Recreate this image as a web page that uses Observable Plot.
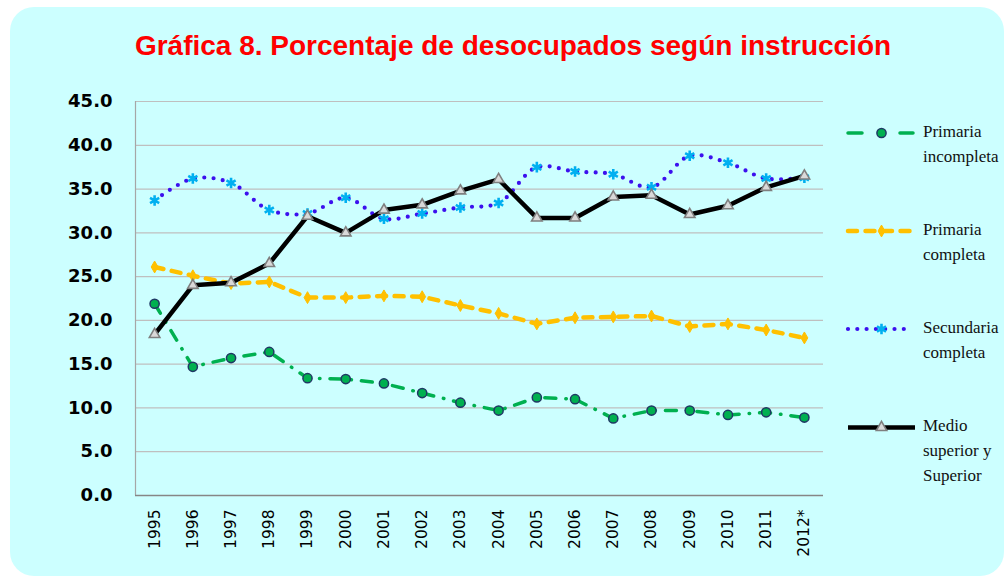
<!DOCTYPE html>
<html>
<head>
<meta charset="utf-8">
<script src="https://cdn.jsdelivr.net/npm/d3@7"></script>
<script src="https://cdn.jsdelivr.net/npm/@observablehq/plot@0.6"></script>
<style>
  html, body { margin: 0; padding: 0; background: #ffffff; }
  #wrap { position: relative; width: 1005px; height: 577px; overflow: hidden; }
  #card { position: absolute; left: 10px; top: 7px; width: 994px; height: 569px; background: #CCFFFF; border-radius: 24px; }
  #title { position: absolute; left: 10px; width: 1006px; top: 29px; text-align: center;
           font-family: "Liberation Sans", Arial, sans-serif; font-weight: bold; font-size: 28px; color: #FF0000; line-height: 34px; white-space: nowrap; }
  #chart, #legend { position: absolute; left: 0; top: 0; }
</style>
</head>
<body>
<div id="wrap">
  <div id="card"></div>
  <div id="title">Gráfica 8. Porcentaje de desocupados según instrucción</div>
  <div id="chart"></div>
  <svg id="legend" width="1005" height="577"></svg>
</div>
<script>
const years = ["1995","1996","1997","1998","1999","2000","2001","2002","2003","2004","2005","2006","2007","2008","2009","2010","2011","2012*"];
const yTicks = [0,5,10,15,20,25,30,35,40,45];

const primariaIncompleta = [21.9,14.7,15.7,16.4,13.4,13.3,12.8,11.7,10.6,9.7,11.2,11.0,8.8,9.7,9.7,9.2,9.5,8.9];
const primariaCompleta   = [26.1,25.1,24.2,24.4,22.6,22.6,22.8,22.7,21.7,20.8,19.6,20.3,20.4,20.5,19.3,19.6,18.9,18.0];
const secundariaCompleta = [33.7,36.2,35.7,32.6,32.2,34.0,31.6,32.2,32.9,33.4,37.5,37.0,36.7,35.2,38.8,38.0,36.2,36.3];
const medioSuperior      = [18.4,24.0,24.3,26.5,31.9,30.0,32.6,33.2,34.8,36.1,31.7,31.7,34.1,34.3,32.1,33.1,35.2,36.5];

const seriesNames = ["Primaria incompleta","Primaria completa","Secundaria completa","Medio superior y Superior"];
const seriesValues = [primariaIncompleta, primariaCompleta, secundariaCompleta, medioSuperior];

const toRows = vals => vals.map((v, i) => ({i, year: years[i], v}));
const rows = seriesValues.map(toRows);

const styles = [
  {line: {stroke: "#00B050", strokeWidth: 3.5, strokeDasharray: "11,10,0.5,10", strokeLinecap: "round"},
   dot: {symbol: "circle", r: 4.6, fill: "#00B050", stroke: "#1F3864", strokeWidth: 1.5}},
  {line: {stroke: "#FFC000", strokeWidth: 4.5, strokeDasharray: "9,8.5", strokeLinecap: "round"},
   dot: {symbol: "diamond", r: 3.6, fill: "#FFC000", stroke: "#FFC000", strokeWidth: 1}},
  {line: {stroke: "#3C10EE", strokeWidth: 4.2, strokeDasharray: "0,9.3", strokeLinecap: "round", curve: "catmull-rom"},
   dot: {symbol: "asterisk", r: 5, fill: "none", stroke: "#00B0F0", strokeWidth: 2.6}},
  {line: {stroke: "#000000", strokeWidth: 4.5, strokeLinejoin: "round"},
   dot: {symbol: "triangle", r: 3.9, fill: "#D9D9D9", stroke: "#7F7F7F", strokeWidth: 1.6}}
];

const marks = [
  Plot.ruleY(yTicks, {y: d => d, stroke: "#BFBFBF", strokeWidth: 1.2}),
  Plot.ruleX([-0.5], {x: d => d, stroke: "#A6A6A6", strokeWidth: 1.2}),
  Plot.ruleY([0], {y: d => d, stroke: "#868686", strokeWidth: 1.5}),
  Plot.axisY({ticks: yTicks, tickFormat: d => d.toFixed(1), tickSize: 0, tickPadding: 23, label: null,
              fontSize: 18, fontWeight: "bold", fontFamily: "DejaVu Sans", fill: "#000"}),
  Plot.axisX({ticks: d3.range(years.length), tickFormat: i => years[i], tickRotate: -90, tickSize: 0, tickPadding: 14, label: null,
              fontSize: 15.5, fontFamily: "DejaVu Sans", fill: "#000"})
];
rows.forEach((r, k) => {
  marks.push(Plot.line(r, {x: "i", y: "v", ...styles[k].line}));
  marks.push(Plot.dot(r, {x: "i", y: "v", ...styles[k].dot}));
});

const chart = Plot.plot({
  width: 1005, height: 577,
  marginLeft: 135, marginRight: 182, marginTop: 101, marginBottom: 82,
  style: {background: "transparent", color: "#000", overflow: "visible"},
  x: {type: "linear", domain: [-0.5, years.length - 0.5], axis: null, label: null},
  y: {domain: [0, 45], axis: null, label: null},
  marks
});
document.getElementById("chart").append(chart);

// Legend
const legendLabels = [["Primaria","incompleta"],["Primaria","completa"],["Secundaria","completa"],["Medio","superior y","Superior"]];
const legendY = [133, 231, 329, 427.5];
const lg = d3.select("#legend");
const symMap = {circle: d3.symbolCircle, diamond: d3.symbolDiamond, asterisk: d3.symbolAsterisk, triangle: d3.symbolTriangle};
legendLabels.forEach((lines, k) => {
  const y = legendY[k];
  const ls = styles[k].line, ds = styles[k].dot;
  lg.append("line").attr("x1", 848).attr("x2", k === 3 ? 915 : 913).attr("y1", y).attr("y2", y)
    .attr("stroke", ls.stroke).attr("stroke-width", ls.strokeWidth)
    .attr("stroke-dasharray", k === 0 ? "14,19,0,19" : (ls.strokeDasharray || null))
    .attr("stroke-linecap", ls.strokeLinecap || "butt");
  lg.append("path").attr("transform", `translate(881.5,${y})`)
    .attr("d", d3.symbol(symMap[ds.symbol], Math.PI * ds.r * ds.r)())
    .attr("fill", ds.fill).attr("stroke", ds.stroke).attr("stroke-width", ds.strokeWidth);
  const t = lg.append("text").attr("x", 923).attr("y", y + 3.7)
    .attr("font-family", "Liberation Serif, Times New Roman, serif").attr("font-size", 17).attr("fill", "#111");
  lines.forEach((s, j) => t.append("tspan").attr("x", 923).attr("dy", j === 0 ? 0 : 25).text(s));
});
</script>
</body>
</html>
